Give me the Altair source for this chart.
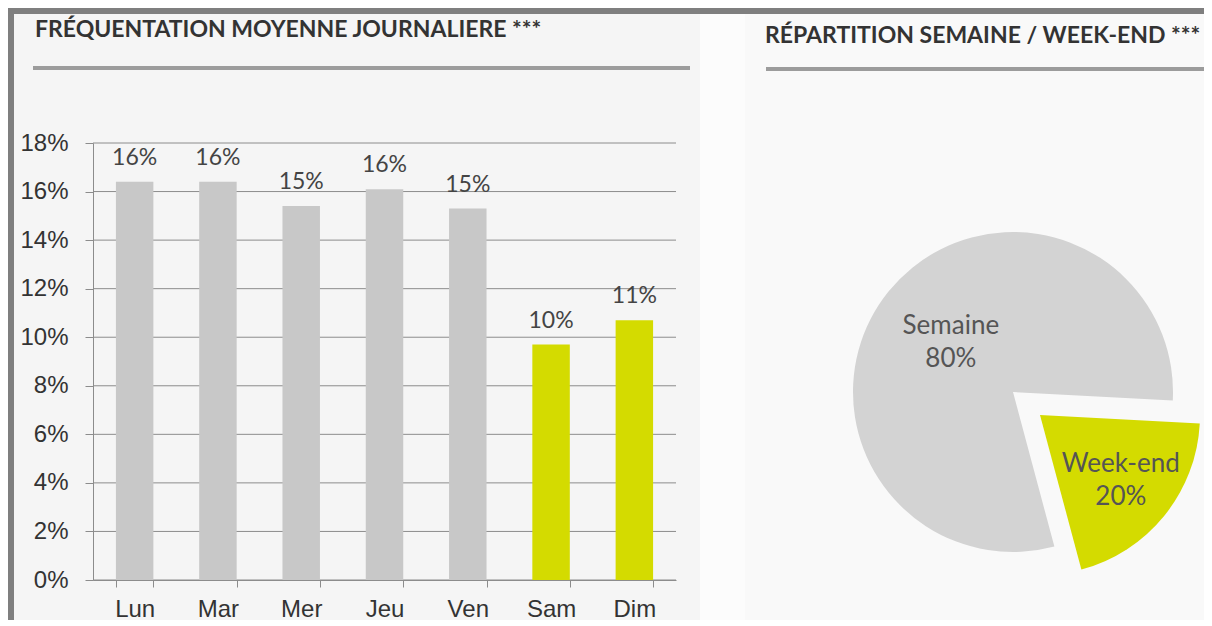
import altair as alt
import pandas as pd

# ---- data ----
days = ["Lun", "Mar", "Mer", "Jeu", "Ven", "Sam", "Dim"]
shares = [0.164, 0.164, 0.154, 0.161, 0.153, 0.097, 0.107]
day_types = ["Semaine", "Semaine", "Semaine", "Semaine", "Semaine", "Week-end", "Week-end"]
y_ticks = [0, 0.02, 0.04, 0.06, 0.08, 0.10, 0.12, 0.14, 0.16, 0.18]

pie_types = ["Semaine", "Week-end"]
pie_values = [80, 20]
pie_order = [1, 2]

title_left = "FRÉQUENTATION MOYENNE JOURNALIERE ***"
title_right = "RÉPARTITION SEMAINE / WEEK-END ***"

bar_df = pd.DataFrame({"day": days, "share": shares, "type": day_types})
tick_df = pd.DataFrame({"share": y_ticks})
pie_df = pd.DataFrame({"type": pie_types, "value": pie_values, "order": pie_order})
one = pd.DataFrame({"k": [0]})

GRAY_BAR = "#c8c8c8"
GRAY_PIE = "#d3d3d3"
YELLOW = "#d4db00"
FRAME = "#7f7f7f"
RULE = "#9c9c9c"
AXIS = "#8c8c8c"

W, H = 583, 437
PAD_L, PAD_T = 85, 135
CANVAS_W, CANVAS_H = 1196, 612


def rect(x, x2, y, y2, color):
    return alt.Chart(one).mark_rect(color=color).encode(
        x=alt.value(x), x2=alt.value(x2), y=alt.value(y), y2=alt.value(y2)
    )


def label(text, x, y, size, weight="bold", color="#333333"):
    return alt.Chart(one).mark_text(
        text=text, align="left", baseline="alphabetic", font="Lato",
        fontSize=size, fontWeight=weight, color=color
    ).encode(x=alt.value(x), y=alt.value(y))


# backgrounds and frame (pixel offsets from plot origin)
bg_left = rect(-79, 607, -129, 500, "#f5f5f5")
bg_right = rect(652, 1130, -129, 500, "#f9f9f9")
frame_left = rect(-85, -79, -135, 500, FRAME)
frame_top = rect(-85, 1130, -135, -129, FRAME)
rule_left = rect(-60, 597, -77, -73, RULE)
rule_right = rect(673, 1130, -76, -72, RULE)
t_left = label(title_left, -58, -106, 23)
t_right = label(title_right, 672, -100, 23)

x_enc = alt.X(
    "day:N", sort=days,
    scale=alt.Scale(paddingInner=0.55, paddingOuter=0.275),
    axis=alt.Axis(
        title=None, labelAngle=0, tickBand="extent", grid=False, zindex=1,
        domainColor=AXIS, tickColor=AXIS, tickSize=7,
        labelFont="Liberation Sans", labelFontSize=24, labelColor="#333333",
        labelPadding=10,
    ),
)
y_enc = alt.Y(
    "share:Q",
    scale=alt.Scale(domain=[0, 0.18], nice=False),
    axis=alt.Axis(
        title=None, values=y_ticks, format=".0%", grid=False, zindex=1,
        domainColor=AXIS, tickColor=AXIS, tickSize=8,
        labelFont="Liberation Sans", labelFontSize=24, labelColor="#333333",
        labelPadding=17,
    ),
)

grid = alt.Chart(tick_df).mark_rule(color=AXIS, strokeWidth=1).encode(
    y=alt.Y("share:Q")
)

bars = alt.Chart(bar_df).mark_bar().encode(
    x=x_enc, y=y_enc,
    color=alt.Color(
        "type:N",
        scale=alt.Scale(domain=pie_types, range=[GRAY_BAR, YELLOW]),
        legend=None,
    ),
)
bar_text = alt.Chart(bar_df).mark_text(
    dy=-17, baseline="alphabetic", font="Lato", fontSize=23, color="#444444"
).encode(x=alt.X("day:N", sort=days), y="share:Q",
         text=alt.Text("share:Q", format=".0%"))

# pie
theta_scale = alt.Scale(domain=[0, 100], range=[2.88, 2.88 + 6.28318])
pie_base = alt.Chart(pie_df).transform_stack(
    stack="value", as_=["start", "end"], groupby=[],
    sort=[alt.SortField("order", order="ascending")],
).transform_calculate(
    mid="(datum.start + datum.end) / 2",
    lab="datum.type + '\\n' + datum.value + '%'",
)

pie_color = alt.Color(
    "type:N",
    scale=alt.Scale(domain=pie_types, range=[GRAY_PIE, YELLOW]),
    legend=None,
)


def slice_layer(name, cx, cy, lab_r):
    base = pie_base.transform_filter(alt.datum.type == name)
    arc = base.mark_arc(radius=160).encode(
        theta=alt.Theta("start:Q", scale=theta_scale),
        theta2="end:Q",
        color=pie_color,
        x=alt.value(cx), y=alt.value(cy),
    )
    txt = base.mark_text(
        radius=lab_r, lineBreak="\n", font="Lato", fontSize=26, dy=-16,
        color="#555555", align="center", baseline="middle", lineHeight=33,
    ).encode(
        theta=alt.Theta("mid:Q", scale=theta_scale),
        text="lab:N",
        x=alt.value(cx), y=alt.value(cy),
    )
    return arc, txt


arc_s, txt_s = slice_layer("Semaine", 920, 249, 80)
arc_w, txt_w = slice_layer("Week-end", 947, 272, 104)

chart = alt.layer(
    bg_left, bg_right, frame_left, frame_top, rule_left, rule_right,
    t_left, t_right, grid, bars, bar_text, arc_s, arc_w, txt_s, txt_w,
).resolve_scale(color="independent").properties(
    width=W, height=H,
    autosize=alt.AutoSizeParams(type="none"),
    padding={"left": PAD_L, "top": PAD_T,
             "right": CANVAS_W - PAD_L - W, "bottom": CANVAS_H - PAD_T - H},
).configure_view(stroke=None).configure(background="#fcfcfc")

chart.save("out.html", embed_options={"renderer": "svg", "actions": False})
